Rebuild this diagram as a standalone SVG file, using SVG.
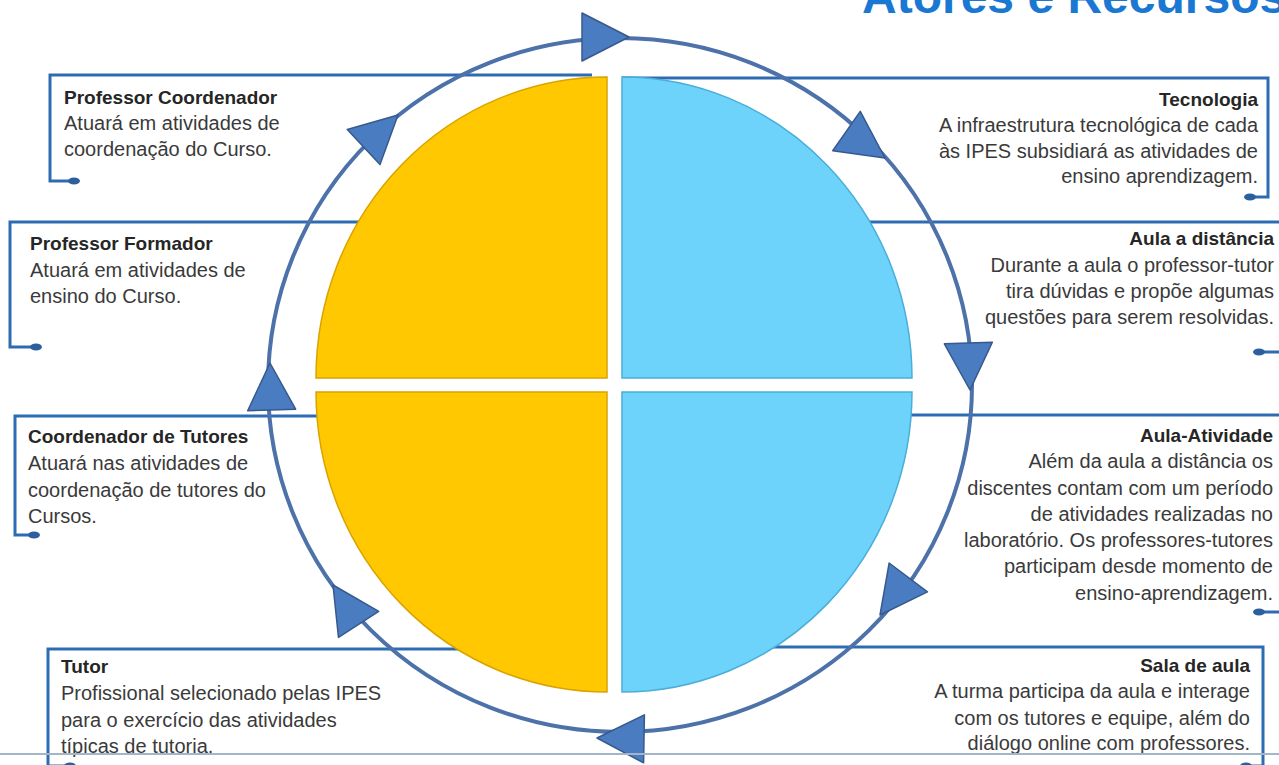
<svg xmlns="http://www.w3.org/2000/svg" xmlns:xlink="http://www.w3.org/1999/xlink" width="1279" height="765" viewBox="0 0 1279 765">
<style>
.br{fill:none;stroke:#2d6cb3;stroke-width:3}
.dot{fill:#2b5f9e}
.h{font-family:"Liberation Sans",Arial,sans-serif;font-size:19px;font-weight:bold;fill:#262626}
.t{font-family:"Liberation Sans",Arial,sans-serif;font-size:20px;fill:#3a3a3a}
.r{text-anchor:end}
.y{fill:#FFC800;stroke:#D9A300;stroke-width:1.5}
.b{fill:#6DD3FB;stroke:#4AAED8;stroke-width:1.5}
.ring{fill:none;stroke:#4c72a9;stroke-width:4}
</style>
<defs>
<path id="ah" d="M0,0 L-47,-24 L-47,24 Z" fill="#4a7cc2" stroke="#37598c" stroke-width="1.5" stroke-linejoin="round"/>
</defs>
<rect width="1279" height="765" fill="#ffffff"/>
<text id="title" x="862" y="13" font-family="'Liberation Sans',Arial,sans-serif" font-size="48" font-weight="bold" fill="#1a78d2">Atores e Recursos</text>
<g id="connectors">
<path class="br" d="M592,75 H50 V181 H74"/>
<ellipse class="dot" cx="74" cy="181" rx="6" ry="3.5"/>
<path class="br" d="M400,222 H10 V347 H36"/>
<ellipse class="dot" cx="36" cy="347" rx="6" ry="3.5"/>
<path class="br" d="M400,416 H15 V535 H34"/>
<ellipse class="dot" cx="34" cy="535" rx="6" ry="3.5"/>
<path class="br" d="M470,649 H48 V766 H70"/>
<ellipse class="dot" cx="70" cy="766" rx="6" ry="3.5"/>
<path class="br" d="M622,78 H1268 V197 H1250"/>
<ellipse class="dot" cx="1250" cy="197" rx="6" ry="3.5"/>
<path class="br" d="M860,222 H1282 V352 H1259"/>
<ellipse class="dot" cx="1259" cy="352" rx="6" ry="3.5"/>
<path class="br" d="M860,415 H1282 V612 H1259"/>
<ellipse class="dot" cx="1259" cy="612" rx="6" ry="3.5"/>
<path class="br" d="M760,647 H1263 V766 H1246"/>
<ellipse class="dot" cx="1246" cy="766" rx="6" ry="3.5"/>
</g>
<g id="pie">
<path id="q-tl" class="y" d="M607,378 H316 A291,301 0 0 1 607,77 Z"/>
<path id="q-tr" class="b" d="M622,378 V77 A290,301 0 0 1 912,378 Z"/>
<path id="q-bl" class="y" d="M607,392 V692 A291,300 0 0 1 316,392 Z"/>
<path id="q-br" class="b" d="M622,392 H912 A290,300 0 0 1 622,692 Z"/>
</g>
<g id="cycle">
<ellipse class="ring" cx="620" cy="385" rx="352" ry="347"/>
<use xlink:href="#ah" href="#ah" transform="translate(629,37) rotate(0)"/>
<use xlink:href="#ah" href="#ah" transform="translate(885,158) rotate(35)"/>
<use xlink:href="#ah" href="#ah" transform="translate(970,390) rotate(88)"/>
<use xlink:href="#ah" href="#ah" transform="translate(880,615) rotate(127)"/>
<use xlink:href="#ah" href="#ah" transform="translate(597,738) rotate(181)"/>
<use xlink:href="#ah" href="#ah" transform="translate(333,585) rotate(-123)"/>
<use xlink:href="#ah" href="#ah" transform="translate(270,363) rotate(-92)"/>
<use xlink:href="#ah" href="#ah" transform="translate(398,115) rotate(-43)"/>
</g>
<g id="professor-coordenador">
<text class="h" x="64" y="104">Professor Coordenador</text>
<text class="t" x="64" y="130">Atuará em atividades de</text>
<text class="t" x="64" y="156">coordenação do Curso.</text>
</g>
<g id="professor-formador">
<text class="h" x="30" y="250">Professor Formador</text>
<text class="t" x="30" y="277">Atuará em atividades de</text>
<text class="t" x="30" y="303">ensino do Curso.</text>
</g>
<g id="coordenador-tutores">
<text class="h" x="28" y="443">Coordenador de Tutores</text>
<text class="t" x="28" y="470">Atuará nas atividades de</text>
<text class="t" x="28" y="497">coordenação de tutores do</text>
<text class="t" x="28" y="523">Cursos.</text>
</g>
<g id="tutor">
<text class="h" x="61" y="673">Tutor</text>
<text class="t" x="61" y="700">Profissional selecionado pelas IPES</text>
<text class="t" x="61" y="727">para o exercício das atividades</text>
<text class="t" x="61" y="753">típicas de tutoria.</text>
</g>
<g id="tecnologia">
<text class="h r" x="1258" y="106">Tecnologia</text>
<text class="t r" x="1258" y="132">A infraestrutura tecnológica de cada</text>
<text class="t r" x="1258" y="158">às IPES subsidiará as atividades de</text>
<text class="t r" x="1258" y="183">ensino aprendizagem.</text>
</g>
<g id="aula-distancia">
<text class="h r" x="1274" y="245">Aula a distância</text>
<text class="t r" x="1274" y="272">Durante a aula o professor-tutor</text>
<text class="t r" x="1274" y="298">tira dúvidas e propõe algumas</text>
<text class="t r" x="1274" y="324">questões para serem resolvidas.</text>
</g>
<g id="aula-atividade">
<text class="h r" x="1273" y="442">Aula-Atividade</text>
<text class="t r" x="1273" y="468">Além da aula a distância os</text>
<text class="t r" x="1273" y="495">discentes contam com um período</text>
<text class="t r" x="1273" y="521">de atividades realizadas no</text>
<text class="t r" x="1273" y="547">laboratório. Os professores-tutores</text>
<text class="t r" x="1273" y="573">participam desde momento de</text>
<text class="t r" x="1273" y="600">ensino-aprendizagem.</text>
</g>
<g id="sala-aula">
<text class="h r" x="1250" y="672">Sala de aula</text>
<text class="t r" x="1250" y="698">A turma participa da aula e interage</text>
<text class="t r" x="1250" y="725">com os tutores e equipe, além do</text>
<text class="t r" x="1250" y="750">diálogo online com professores.</text>
</g>
<line id="footer-rule" x1="0" y1="754" x2="1279" y2="754" stroke="#a3b5c8" stroke-width="2"/>
</svg>
